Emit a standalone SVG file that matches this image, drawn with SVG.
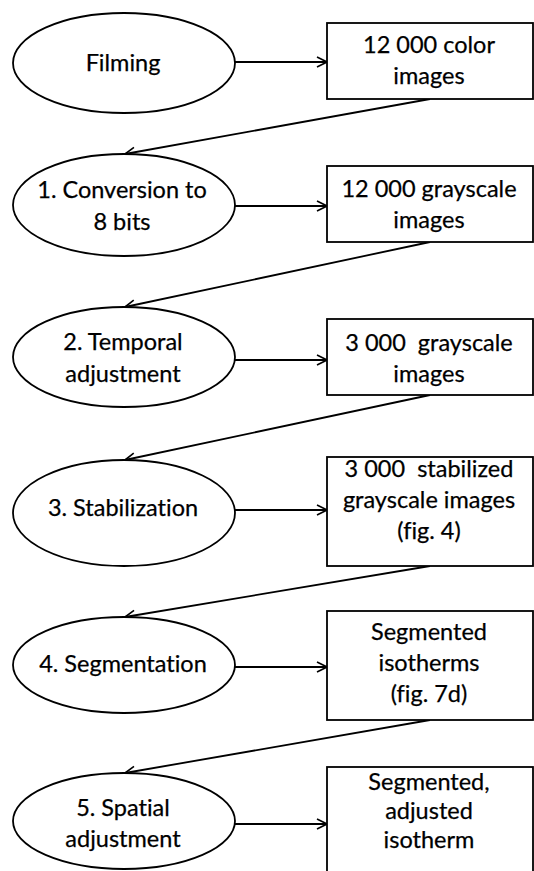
<svg xmlns="http://www.w3.org/2000/svg" width="534" height="871" viewBox="0 0 534 871">
  <defs>
    <marker id="arrow" viewBox="0 0 12 12" refX="11" refY="6" markerWidth="12" markerHeight="12" markerUnits="userSpaceOnUse" orient="auto">
      <path d="M1,1 L11,6 L1,11" fill="none" stroke="#000" stroke-width="1.6"/>
    </marker>
  </defs>
  <style>
    .shape { fill: #fff; stroke: #000; stroke-width: 1.8; }
    .link { fill: none; stroke: #000; stroke-width: 1.8; marker-end: url(#arrow); }
    text { font-family: Lato, "Open Sans", "Liberation Sans", sans-serif; font-size: 23.5px; fill: #000; stroke: #000; stroke-width: 0.25; text-anchor: middle; font-variant-ligatures: none; }
  </style>
  <rect width="534" height="871" fill="#fff"/>

  <!-- connectors -->
  <g id="connectors">
    <line class="link" x1="235" y1="62" x2="327" y2="62"/>
    <line class="link" x1="430" y1="99" x2="125" y2="154"/>
    <line class="link" x1="235" y1="206" x2="327" y2="206"/>
    <line class="link" x1="430" y1="242" x2="125" y2="307"/>
    <line class="link" x1="235" y1="360" x2="327" y2="360"/>
    <line class="link" x1="430" y1="395" x2="125" y2="460"/>
    <line class="link" x1="235" y1="510" x2="327" y2="510"/>
    <line class="link" x1="430" y1="566" x2="125" y2="617"/>
    <line class="link" x1="235" y1="667" x2="327" y2="667"/>
    <line class="link" x1="430" y1="720" x2="125" y2="773"/>
    <line class="link" x1="235" y1="824" x2="327" y2="824"/>
  </g>

  <!-- process steps -->
  <g id="step-filming">
    <ellipse class="shape" cx="124" cy="63" rx="111" ry="50"/>
    <text x="123" y="71">Filming</text>
  </g>
  <g id="step-conversion">
    <ellipse class="shape" cx="124" cy="205" rx="111" ry="51"/>
    <text x="122" y="198">1. Conversion to</text>
    <text x="122" y="230">8 bits</text>
  </g>
  <g id="step-temporal">
    <ellipse class="shape" cx="124" cy="357" rx="111" ry="50"/>
    <text x="123" y="350">2. Temporal</text>
    <text x="123" y="382">adjustment</text>
  </g>
  <g id="step-stabilization">
    <ellipse class="shape" cx="124" cy="513" rx="111" ry="53"/>
    <text x="123" y="516">3. Stabilization</text>
  </g>
  <g id="step-segmentation">
    <ellipse class="shape" cx="124" cy="665" rx="111" ry="48"/>
    <text x="123" y="672">4. Segmentation</text>
  </g>
  <g id="step-spatial">
    <ellipse class="shape" cx="124" cy="821" rx="111" ry="48"/>
    <text x="123" y="816">5. Spatial</text>
    <text x="123" y="847">adjustment</text>
  </g>

  <!-- intermediate results -->
  <g id="data-color">
    <rect class="shape" x="327" y="23" width="206" height="76"/>
    <text x="429" y="53">12 000 color</text>
    <text x="429" y="84">images</text>
  </g>
  <g id="data-grayscale">
    <rect class="shape" x="327" y="166" width="206" height="76"/>
    <text x="429" y="197">12 000 grayscale</text>
    <text x="429" y="228">images</text>
  </g>
  <g id="data-temporal">
    <rect class="shape" x="327" y="319" width="206" height="76"/>
    <text x="429" y="351" xml:space="preserve">3 000  grayscale</text>
    <text x="429" y="382">images</text>
  </g>
  <g id="data-stabilized">
    <rect class="shape" x="327" y="457" width="206" height="109"/>
    <text x="429" y="477" xml:space="preserve">3 000  stabilized</text>
    <text x="429" y="508">grayscale images</text>
    <text x="429" y="539">(fig. 4)</text>
  </g>
  <g id="data-segmented">
    <rect class="shape" x="327" y="611" width="206" height="109"/>
    <text x="429" y="640">Segmented</text>
    <text x="429" y="671">isotherms</text>
    <text x="429" y="702">(fig. 7d)</text>
  </g>
  <g id="data-adjusted">
    <rect class="shape" x="327" y="767" width="206" height="112"/>
    <text x="429" y="790">Segmented,</text>
    <text x="429" y="819">adjusted</text>
    <text x="429" y="848">isotherm</text>
  </g>
</svg>
